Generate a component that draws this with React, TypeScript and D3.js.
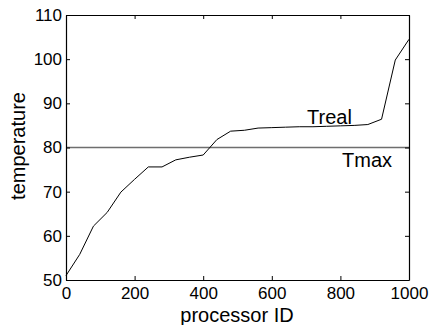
import React, { useEffect, useRef } from 'react'
import * as d3 from 'd3'

// processor IDs and measured temperature
const processorIds = [0, 40, 80, 120, 160, 200, 240, 280, 320, 360, 400, 440, 480, 520, 560, 600, 640, 680, 720, 760, 800, 840, 880, 920, 960, 1000]
const treal = [51, 55.8, 62.2, 65.3, 69.9, 72.8, 75.6, 75.6, 77.2, 77.8, 78.3, 81.8, 83.7, 83.9, 84.4, 84.5, 84.6, 84.7, 84.7, 84.8, 84.9, 85.0, 85.2, 86.4, 99.8, 104.5]
const tmax = 80
const xTicks = [0, 200, 400, 600, 800, 1000]
const yTicks = [50, 60, 70, 80, 90, 100, 110]

const App = () => {
  const svgRef = useRef<SVGSVGElement>(null)

  useEffect(() => {
    const width = 430
    const height = 325
    const left = 66, right = 409, top = 15, bottom = 280
    const font = 'Liberation Sans, Arial, sans-serif'

    const svg = d3.select(svgRef.current)
      .attr('width', width)
      .attr('height', height)
      .style('display', 'block')
      .style('background', '#fff')
    svg.selectAll('*').remove()

    const x = d3.scaleLinear().domain([0, 1000]).range([left, right])
    const y = d3.scaleLinear().domain([50, 110]).range([bottom, top])

    // Tmax reference line
    svg.append('line')
      .attr('x1', x(0)).attr('x2', x(1000))
      .attr('y1', y(tmax)).attr('y2', y(tmax))
      .attr('stroke', '#6e6e6e')
      .attr('stroke-width', 1.3)

    // Treal curve
    const line = d3.line<number>()
      .x((d, i) => x(processorIds[i]))
      .y(d => y(d))
    svg.append('path')
      .datum(treal)
      .attr('d', line)
      .attr('fill', 'none')
      .attr('stroke', '#000')
      .attr('stroke-width', 1)

    // box and inward ticks (matlab style)
    const tl = 4
    svg.append('g').attr('transform', `translate(0,${bottom})`)
      .call(d3.axisBottom(x).tickValues(xTicks).tickFormat(d3.format('d')).tickSizeInner(-tl).tickSizeOuter(0).tickPadding(7))
    svg.append('g').attr('transform', `translate(0,${top})`)
      .call(d3.axisTop(x).tickValues(xTicks).tickSizeInner(-tl).tickSizeOuter(0).tickFormat(() => ''))
    svg.append('g').attr('transform', `translate(${left},0)`)
      .call(d3.axisLeft(y).tickValues(yTicks).tickSizeInner(-tl).tickSizeOuter(0).tickPadding(4))
    svg.append('g').attr('transform', `translate(${right},0)`)
      .call(d3.axisRight(y).tickValues(yTicks).tickSizeInner(-tl).tickSizeOuter(0).tickFormat(() => ''))

    svg.selectAll('.domain').attr('stroke', '#000').attr('stroke-width', 1.2)
    svg.selectAll('.tick line').attr('stroke', '#000')
    svg.selectAll('.tick text')
      .attr('fill', '#000')
      .style('font-family', font)
      .style('font-size', '17px')

    // labels
    svg.append('text')
      .attr('x', 307).attr('y', 124)
      .text('Treal')
      .style('font-family', font).style('font-size', '20px')
    svg.append('text')
      .attr('x', 342).attr('y', 167)
      .text('Tmax')
      .style('font-family', font).style('font-size', '20px')

    svg.append('text')
      .attr('x', 237).attr('y', 322)
      .attr('text-anchor', 'middle')
      .text('processor ID')
      .style('font-family', font).style('font-size', '20px')
    svg.append('text')
      .attr('transform', `translate(25,146) rotate(-90)`)
      .attr('text-anchor', 'middle')
      .text('temperature')
      .style('font-family', font).style('font-size', '20px')
  }, [])

  return (
    <div style={{ position: 'absolute', left: 0, top: 0 }}>
      <svg ref={svgRef}></svg>
    </div>
  )
}

export default App
